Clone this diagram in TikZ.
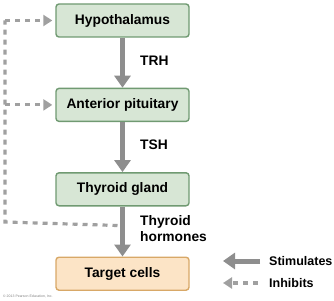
\documentclass[tikz,border=0pt]{standalone}
\usepackage{fontspec}
\setmainfont{Liberation Sans}
\usepackage{xcolor}
\usetikzlibrary{positioning, calc, arrows.meta}

\definecolor{boxgreen}{HTML}{D7E6D5}
\definecolor{edgegreen}{HTML}{709A72}
\definecolor{boxorange}{HTML}{FCE4C6}
\definecolor{edgeorange}{HTML}{D8A867}
\definecolor{stimgray}{HTML}{8E8E8E}
\definecolor{inhgray}{HTML}{A0A0A0}

\tikzset{
  gland/.style={draw=edgegreen, fill=boxgreen, line width=1.4pt, rounded corners=3pt,
    minimum width=133pt, minimum height=33pt, inner sep=0pt,
    font=\fontsize{13.8}{16}\selectfont\bfseries},
  target/.style={gland, draw=edgeorange, fill=boxorange},
  stim/.style={draw=stimgray, line width=5pt, -{Triangle[width=16pt,length=12pt]}},
  inhib/.style={draw=inhgray, line width=3.2pt, line join=miter, dash pattern=on 5pt off 5pt},
  inhibtip/.style={inhib, -{Triangle[width=11pt,length=9pt]}, shorten >=3pt},
  hormone/.style={font=\fontsize{13.8}{16}\selectfont\bfseries, anchor=west, inner sep=0pt,
    align=left},
  legend/.style={font=\fontsize{12.5}{15}\selectfont\bfseries, anchor=west, inner sep=0pt}
}

\begin{document}
\begin{tikzpicture}[x=1pt, y=1pt]
  \useasboundingbox (0,0) rectangle (334,300);

%boxes
  \node[gland] (hyp) at (122.5,279.5) {Hypothalamus};
  \node[gland, below=50pt of hyp] (ant) {Anterior pituitary};
  \node[gland, below=50pt of ant] (thy) {Thyroid gland};
  \node[target, below=50pt of thy] (tgt) {Target cells};

%hormones
  \node[hormone] (trh) at (140,239) {TRH};
  \node[hormone] (tsh) at (140,155) {TSH};
  \node[hormone] (th) at (140,71) {Thyroid\\hormones};

%stimulating arrows
  \draw[stim] (hyp) -- (ant);
  \draw[stim] (ant) -- (thy);
  \draw[stim] (thy) -- (tgt);

%feedback
  \coordinate (fb) at ($(thy.south)+(-5,-19)$);
  \coordinate (fbl) at (5,78);
  \coordinate (fbt) at (5,279.5);
  \draw[inhib] (fb) -- (fbl) -- (fbt);
  \draw[inhibtip] (fbt) -- (hyp.west);
  \draw[inhibtip] (fbl |- ant.west) -- (ant.west);

%legend
  \coordinate (s1) at (260,39);
  \coordinate (s2) at (223,39);
  \coordinate (i1) at (258,17);
  \coordinate (i2) at (223,17);
  \draw[stim] (s1) -- (s2);
  \draw[inhib, -{Triangle[width=11pt,length=9pt]}] (i1) -- (i2);
  \node[legend] (stx) at (269,39) {Stimulates};
  \node[legend] (inx) at (269,17) {Inhibits};

%credit
  \node[anchor=west, inner sep=0pt, text=gray, font=\fontsize{3.5}{4}\selectfont] (cr) at (3,4) {\textcopyright\ 2013 Pearson Education, Inc.};
\end{tikzpicture}
\end{document}
